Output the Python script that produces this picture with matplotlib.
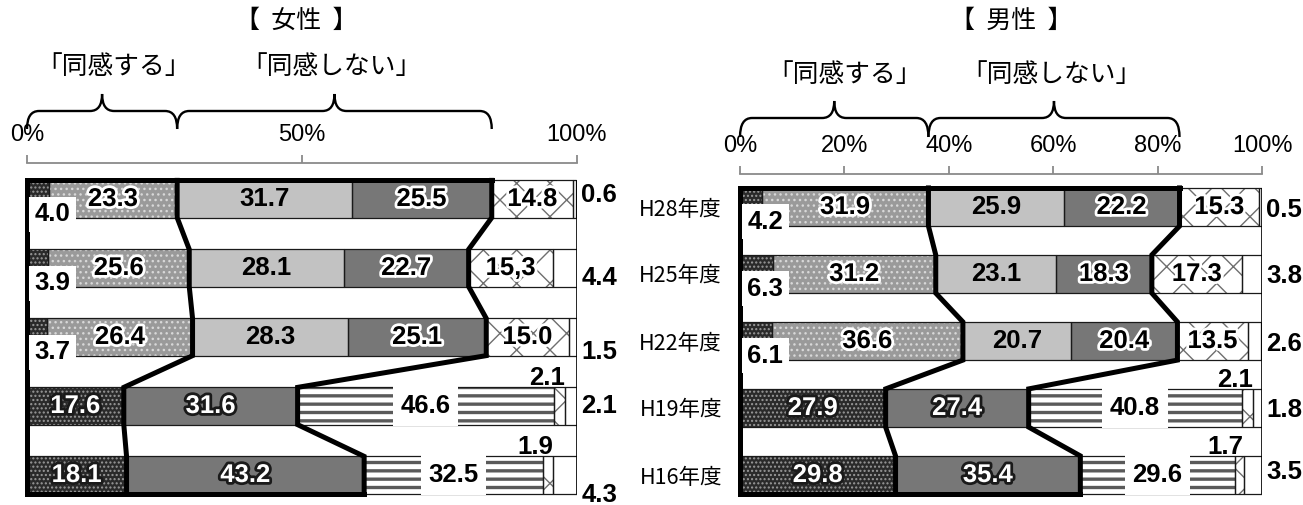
"""Stacked bar comparison: 女性 / 男性 attitudes by survey year."""

import matplotlib

matplotlib.use("Agg")
import matplotlib.patheffects as pe
import matplotlib.pyplot as plt
import matplotlib.transforms as mtransforms
from matplotlib.patches import PathPatch
from matplotlib.path import Path

years = ["H28年度", "H25年度", "H22年度", "H19年度", "H16年度"]

women_values = [
    [4.0, 23.3, 31.7, 25.5, 14.8, 0.6],
    [3.9, 25.6, 28.1, 22.7, 15.3, 4.4],
    [3.7, 26.4, 28.3, 25.1, 15.0, 1.5],
    [17.6, 31.6, 46.6, 2.1, 2.1],
    [18.1, 43.2, 32.5, 1.9, 4.3],
]
men_values = [
    [4.2, 31.9, 25.9, 22.2, 15.3, 0.5],
    [6.3, 31.2, 23.1, 18.3, 17.3, 3.8],
    [6.1, 36.6, 20.7, 20.4, 13.5, 2.6],
    [27.9, 27.4, 40.8, 2.1, 1.8],
    [29.8, 35.4, 29.6, 1.7, 3.5],
]
# the source prints this one with a comma
women_text_override = {(1, 4): "15,3"}

women_ticks = [0, 50, 100]
men_ticks = [0, 20, 40, 60, 80, 100]

new_layout = ["A", "B", "C", "D", "E", "F"]
old_layout = ["A", "D", "G", "E", "F"]
row_layouts = [new_layout] * 3 + [old_layout] * 2
agree_parts = [2, 2, 2, 1, 1]
disagree_parts = [2, 2, 2, 1, 1]

STYLES = {
    "A": dict(face="#2a2a2a", hatch="....", hcolor="#9a9a9a", hlw=1.0),
    "B": dict(face="#9a9a9a", hatch="...", hcolor="#d8d8d8", hlw=1.0),
    "C": dict(face="#c2c2c2", hatch=None, hcolor=None, hlw=1.0),
    "D": dict(face="#777777", hatch=None, hcolor=None, hlw=1.0),
    "E": dict(face="white", hatch="x", hcolor="#6e6e6e", hlw=1.0),
    "F": dict(face="white", hatch=None, hcolor=None, hlw=1.0),
    "G": dict(face="white", hatch="--", hcolor="#5a5a5a", hlw=2.4),
}

FIG_W, FIG_H = 1303, 505
NUM_FONT = dict(family="Liberation Sans", weight="bold", size=18.5)
JP_FONT = ["Noto Sans CJK JP", "DejaVu Sans"]
TICK_FONT = ["Liberation Sans Narrow", "Liberation Sans"]

white_glow = [pe.withStroke(linewidth=4, foreground="white")]
dark_glow = [pe.withStroke(linewidth=4, foreground="#1a1a1a")]


def px_to_fig(py):
    return 1 - py / FIG_H


def draw_brace(ax, x0, x1, base_px, end_px, tip_px, bend_px, px_per_unit):
    trans = mtransforms.blended_transform_factory(ax.transData, ax.figure.transFigure)
    yb = px_to_fig(base_px)
    ye = px_to_fig(end_px)
    yt = px_to_fig(tip_px)
    w = bend_px / px_per_unit
    xm = (x0 + x1) / 2
    verts = [
        (x0, ye), (x0, yb), (x0 + w, yb),
        (xm - w, yb),
        (xm, yb), (xm, yt),
        (xm, yb), (xm + w, yb),
        (x1 - w, yb),
        (x1, yb), (x1, ye),
    ]
    codes = [Path.MOVETO, Path.CURVE3, Path.CURVE3, Path.LINETO,
             Path.CURVE3, Path.CURVE3, Path.CURVE3, Path.CURVE3, Path.LINETO,
             Path.CURVE3, Path.CURVE3]
    patch = PathPatch(Path(verts, codes), transform=trans, fill=False,
                      edgecolor="black", linewidth=1.7, clip_on=False)
    ax.add_patch(patch)


def draw_panel(ax, values, overrides, bar_h, f_nudges, title, title_pos,
               text_y, brace_px, ticks, tick_pad, show_years):
    n_rows = len(values)
    for r in range(n_rows):
        left = 0.0
        layout = row_layouts[r]
        for k, (kind, val) in enumerate(zip(layout, values[r])):
            st = STYLES[kind]
            with plt.rc_context({"hatch.linewidth": st["hlw"]}):
                ax.barh(r, val, left=left, height=bar_h, color=st["face"],
                        hatch=st["hatch"], edgecolor=st["hcolor"] or st["face"],
                        linewidth=0, zorder=2)
            ax.barh(r, val, left=left, height=bar_h, fill=False,
                    edgecolor="#1a1a1a", linewidth=0.9, zorder=2.5)

            txt = overrides.get((r, k), f"{val:.1f}")
            mid = left + val / 2
            top = r - bar_h / 2
            if kind == "A" and layout is new_layout:
                ax.text(1.4, r + 0.22, txt, ha="left", va="center", zorder=6,
                        bbox=dict(boxstyle="square,pad=0.22", fc="white", ec="none"),
                        **NUM_FONT)
            elif kind == "A" or (kind == "D" and layout is old_layout):
                ax.text(mid, r, txt, ha="center", va="center", color="white",
                        path_effects=dark_glow, zorder=6, **NUM_FONT)
            elif kind in ("B", "D") or (kind == "E" and layout is new_layout):
                ax.text(mid, r, txt, ha="center", va="center", color="black",
                        path_effects=white_glow, zorder=6, **NUM_FONT)
            elif kind == "C":
                ax.text(mid, r, txt, ha="center", va="center", color="black",
                        zorder=6, **NUM_FONT)
            elif kind == "G":
                ax.text(mid, r, txt, ha="center", va="center", color="black", zorder=6,
                        bbox=dict(boxstyle="square,pad=0.3", fc="white", ec="none"),
                        **NUM_FONT)
            elif kind == "E":
                ax.text(left + val, top - 0.03, txt, ha="right", va="baseline",
                        zorder=6, **NUM_FONT)
            elif kind == "F":
                ax.text(100.8, r + f_nudges[r], txt, ha="left", va="center",
                        clip_on=False, zorder=6, **NUM_FONT)
            left += val

    # thick outline around the agree / disagree groups
    b1, b2 = [], []
    for r in range(n_rows):
        a = sum(values[r][:agree_parts[r]])
        b1.append(a)
        b2.append(a + sum(values[r][agree_parts[r]:agree_parts[r] + disagree_parts[r]]))
    tops = [r - bar_h / 2 for r in range(n_rows)]
    bots = [r + bar_h / 2 for r in range(n_rows)]
    line_kw = dict(color="black", linewidth=3.6, clip_on=False, zorder=4,
                   solid_joinstyle="miter", solid_capstyle="projecting")
    for bounds in (b1, b2):
        xs, ys = [], []
        for r in range(n_rows):
            xs += [bounds[r], bounds[r]]
            ys += [tops[r], bots[r]]
        ax.plot(xs, ys, **line_kw)
    ax.plot([0, 0], [tops[0], bots[-1]], **line_kw)
    ax.plot([0, b2[0]], [tops[0], tops[0]], **line_kw)
    ax.plot([0, b2[-1]], [bots[-1], bots[-1]], **line_kw)
    ax.vlines(100, tops[0], bots[-1], color="black", linewidth=1.2, zorder=3)

    # axis on top
    ax.set_xlim(0, 100)
    for side in ("left", "right", "bottom"):
        ax.spines[side].set_visible(False)
    ax.spines["top"].set_color("#8a8a8a")
    ax.spines["top"].set_linewidth(1.3)
    ax.xaxis.set_ticks_position("top")
    ax.set_xticks(ticks, [f"{t}%" for t in ticks])
    ax.tick_params(axis="x", direction="out", length=6, width=1.3, color="#8a8a8a",
                   labelsize=17, pad=tick_pad)
    for lab in ax.get_xticklabels():
        lab.set_family(TICK_FONT)
    ax.set_yticks(range(n_rows), years if show_years else [""] * n_rows)
    ax.tick_params(axis="y", length=0, pad=13, labelsize=15.5)
    for lab in ax.get_yticklabels():
        lab.set_family(JP_FONT)

    # title, group captions and braces
    fig = ax.figure
    px_per_unit = ax.get_position().width * FIG_W / 100
    trans = mtransforms.blended_transform_factory(ax.transData, fig.transFigure)
    ax.text(title_pos, px_to_fig(21), title, transform=trans, ha="center", va="center",
            family=JP_FONT, fontsize=18)
    base, end, tip = brace_px
    draw_brace(ax, 0, b1[0], base, end, tip, 12, px_per_unit)
    draw_brace(ax, b1[0], b2[0], base, end, tip, 12, px_per_unit)
    ax.text(b1[0] / 2 + 2, px_to_fig(text_y), "「同感する」", transform=trans,
            ha="center", va="center", family=JP_FONT, fontsize=18.5)
    ax.text((b1[0] + b2[0]) / 2 - 0.5, px_to_fig(text_y), "「同感しない」", transform=trans,
            ha="center", va="center", family=JP_FONT, fontsize=18.5)


fig = plt.figure(figsize=(FIG_W / 100, FIG_H / 100), dpi=100)

# women: 0% at x=27px, 100% at x=577px, axis line at y=163px, rows every 69px from 199px
ax_w = fig.add_axes([27 / FIG_W, 0, 550 / FIG_W, (FIG_H - 163) / FIG_H])
ax_w.set_ylim((FIG_H - 199) / 69, (163 - 199) / 69)
draw_panel(ax_w, women_values, women_text_override, 0.54,
           [-0.06, 0.15, 0.22, 0.0, 0.29], "【  女性  】", 49,
           67, (111, 129, 94), women_ticks, 6, False)

# men: 0% at x=740px, 100% at x=1262px, axis line at y=174px, rows every 67px from 207px
ax_m = fig.add_axes([740 / FIG_W, 0, 522 / FIG_W, (FIG_H - 174) / FIG_H])
ax_m.set_ylim((FIG_H - 207) / 67, (174 - 207) / 67)
draw_panel(ax_m, men_values, {}, 0.57,
           [0.05, 0.03, 0.04, 0.03, -0.04], "【  男性  】", 52,
           75, (118, 137, 101), men_ticks, 6, True)

fig.savefig("out.png", dpi=100)
